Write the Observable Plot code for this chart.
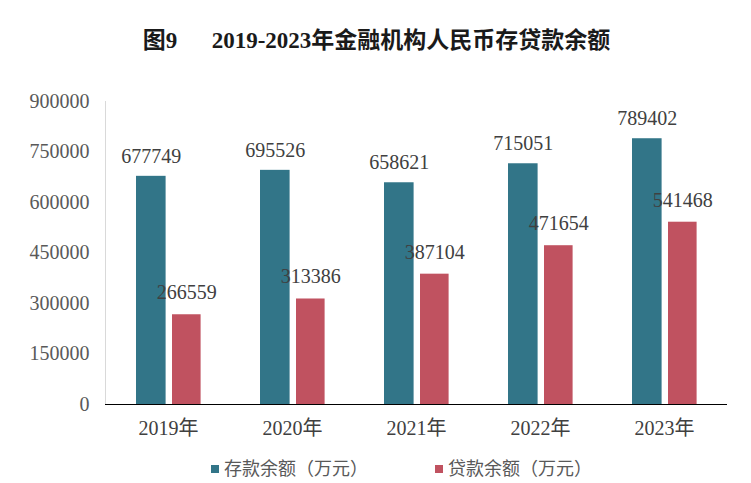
<!DOCTYPE html>
<html><head><meta charset="utf-8">
<script src="https://cdn.jsdelivr.net/npm/d3@7"></script>
<script src="https://cdn.jsdelivr.net/npm/@observablehq/plot@0.6"></script>
<style>
body{margin:0;background:#fff;width:751px;height:483px;overflow:hidden;font-family:"Liberation Serif","Noto Sans CJK SC",serif;}
#title{height:80px;line-height:82px;text-align:center;font-size:23px;font-weight:bold;color:#1a1a1a;white-space:pre;padding-left:2px}
#legend{display:flex;justify-content:center;gap:67px;font-size:18px;color:#595959;margin-top:4px;padding-left:52px}
#legend span.sw{display:inline-block;width:8px;height:8px;margin-right:5px;vertical-align:middle;position:relative;top:-2px}
</style></head>
<body>
<div id="title">图9　  2019-2023年金融机构人民币存贷款余额</div>
<div id="chart"></div>
<div id="legend"></div>
<script>
const years = ["2019年","2020年","2021年","2022年","2023年"];
const seriesNames = ["存款余额（万元）","贷款余额（万元）"];
const deposits = [677749,695526,658621,715051,789402];
const loans = [266559,313386,387104,471654,541468];
const yTicks = [0,150000,300000,450000,600000,750000,900000];
const colors = ["#327588","#C05260"];

const depData = years.map((y,i)=>({year:y, series:seriesNames[0], value:deposits[i]}));
const loanData = years.map((y,i)=>({year:y, series:seriesNames[1], value:loans[i]}));

const font = '"Liberation Serif","Noto Sans CJK SC",serif';
const chart = Plot.plot({
  width:751, height:370,
  marginLeft:105, marginRight:24, marginTop:21, marginBottom:46,
  style:{fontFamily:font, fontSize:"20px", color:"#595959", background:"#fff"},
  x:{domain:years, padding:0, label:null},
  y:{domain:[0,900000], label:null},
  color:{domain:seriesNames, range:colors},
  marks:[
    Plot.axisY({ticks:yTicks, tickFormat:d=>String(d), tickSize:0, tickPadding:16, fontSize:20, fill:"#595959"}),
    Plot.axisX({tickSize:0, tickPadding:16, fontSize:20, fill:"#404040", label:null}),
    Plot.frame({anchor:"left", stroke:"#d9d9d9"}),
    Plot.barY(depData,{x:"year", y:"value", fill:"series", insetLeft:30, insetRight:64.4}),
    Plot.barY(loanData,{x:"year", y:"value", fill:"series", insetLeft:66, insetRight:29.4}),
    Plot.ruleY([0],{stroke:"#000", strokeWidth:1.2}),
    Plot.text(depData,{x:"year", y:"value", text:d=>String(d.value), dx:-17.2, dy:-20, fontSize:20, fill:"#404040"}),
    Plot.text(loanData,{x:"year", y:"value", text:d=>String(d.value), dx:18.3, dy:-22, fontSize:20, fill:"#404040"})
  ]
});
document.getElementById("chart").appendChild(chart);
const leg = document.getElementById("legend");
seriesNames.forEach((n,i)=>{
  const d=document.createElement("div");
  d.innerHTML=`<span class="sw" style="background:${colors[i]}"></span>${n}`;
  leg.appendChild(d);
});
</script>
</body></html>
